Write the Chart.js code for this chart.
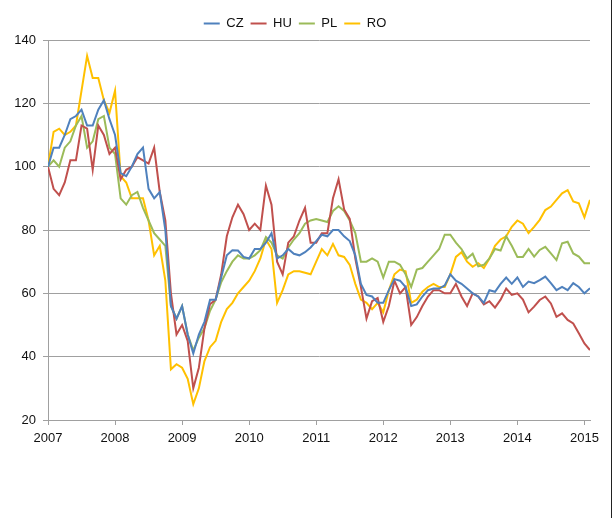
<!DOCTYPE html>
<html>
<head>
<meta charset="utf-8">
<script src="https://cdn.jsdelivr.net/npm/chart.js@4.4.1/dist/chart.umd.min.js"></script>
<style>
  html, body { margin: 0; padding: 0; background: #fff; }
  #wrap { position: relative; width: 614px; height: 518px; }
  #edge { position: absolute; left: 611px; top: 0; width: 1px; height: 518px; background: #222; }
  canvas { display: block; }
</style>
</head>
<body>
<div id="wrap">
  <canvas id="chart" width="614" height="518"></canvas>
  <div id="edge"></div>
</div>
<script>
// monthly readings, Jan 2007 .. Feb 2015
const startYear = 2007;
const years = [2007, 2008, 2009, 2010, 2011, 2012, 2013, 2014, 2015];
const seriesNames = ['CZ', 'HU', 'PL', 'RO'];
const seriesColors = ['#4f81bd', '#c0504d', '#9bbb59', '#ffc000'];

const CZ = [100,106,106,110,115,116,118,113,113,118, 121,115,110,98,97,100,104,106,93,90,
  92,80,56,52,56,47,41,47,51,58, 58,65,72,73.6,73.5,71.5,71,74,74,76,
  79,71,72,74,72.5,72,73,74.5,76.5,78.5, 78,80,80,78,76.5,72,63,59.5,59,57,
  57,61,64.5,64,62,56,56.5,59,61,61.5, 61.5,62.5,66,64,63,61.5,60,59,57,61,
  60.5,63,65,63,65,62,63.7,63.2,64.2,65.3, 63.2,61,62,61,63.2,62,60,61.6];
const HU = [100,93,91,95,102,102,113,112,99,113, 110,104,106,96,99,100,103,102,101,106,
  92,83,60,47,50,45,30,36.5,49,56.6, 58,66,78,84,88,85,80,82,80,94,
  88,70,66,76,78,83,87,76,76,79, 79,90,96,86.5,83.5,71,62,52,57.5,58.5,
  51,56,64,60,62,50,52.5,56,59,61, 61,60,60,63,59,56,60,59,56.5,57.5,
  55.5,58,61.5,59.5,60,58,54,55.8,57.9,59, 56.8,52.6,53.7,51.6,50.5,47.4,44.2,42.1];
const PL = [100,102,100,106,108,113,116,106,108,115, 116,106,104,90,88,91,92,87,83,79,
  77,75,56,52,56,47,42,46,49,54.5, 58,63.5,67,70,72,71,71,72,73.6,77.8,
  76,72,71,74.5,77,79,82,83,83.5,83, 82.5,86,87.5,86,83,79,70,70,71,70,
  65,70,70,69,66,62,67.5,68,70,72, 74,78.5,78.5,76,74,71,72.5,68.5,69,71,
  74,73.5,78,75,71.5,71.5,74,71.6,73.7,74.7, 72.6,70.5,75.8,76.3,72.6,71.6,69.5,69.5];
const RO = [100,111,112,110,111,113,124,135,128,128, 121,117,124,97,95,90,90,90,83,72,
  75,64,36,37.6,36.5,33,25,30,38.6,43, 45,51,55,57,60,62,64,67,71,77,
  74,57,61,66,67,67,66.5,66,70,74, 72,75.6,72,71.5,69,63,58,57,55,57,
  54,61,66,67.5,67,57,58,60.5,62,63, 62,62,66,71.5,73,70,68.4,69.5,68,71,
  75,77,78,81,83,82,79,81,83.2,86.3, 87.4,89.5,91.6,92.6,89,88.4,84,89.5];
const seriesValues = [CZ, HU, PL, RO];

const gridColor = '#a0a0a0';
const textFont = { family: "'Liberation Sans Narrow', 'Liberation Sans', sans-serif", size: 13 };

const datasets = seriesNames.map((name, k) => ({
  label: name,
  data: seriesValues[k].map((v, i) => ({ x: startYear + i / 12, y: v })),
  borderColor: seriesColors[k],
  backgroundColor: seriesColors[k],
  borderWidth: 2,
  pointRadius: 0,
  tension: 0
}));

const ctx = document.getElementById('chart').getContext('2d');
new Chart(ctx, {
  type: 'line',
  data: { datasets: datasets },
  options: {
    responsive: false,
    animation: false,
    layout: { padding: { top: 4, right: 24, bottom: 68, left: 0 } },
    plugins: {
      legend: {
        position: 'top',
        labels: {
          usePointStyle: true,
          pointStyle: 'line',
          pointStyleWidth: 16,
          padding: 7,
          color: '#111',
          font: textFont
        }
      },
      tooltip: { enabled: false }
    },
    scales: {
      x: {
        type: 'linear',
        min: 2007,
        max: 2007 + 97 / 12,
        afterBuildTicks: s => { s.ticks = years.map(v => ({ value: v })); },
        afterFit: s => { s.height = 30; },
        ticks: { callback: v => String(v), color: '#111', font: textFont, padding: 6, maxRotation: 0, autoSkip: false },
        grid: { drawOnChartArea: false, tickLength: 5, color: gridColor },
        border: { color: gridColor }
      },
      y: {
        min: 20,
        max: 140,
        afterFit: s => { s.width = 48; s.paddingTop = 40; },
        ticks: { stepSize: 20, color: '#111', font: textFont, padding: 7 },
        grid: { color: gridColor, tickLength: 5 },
        border: { color: gridColor }
      }
    }
  }
});
</script>
</body>
</html>
